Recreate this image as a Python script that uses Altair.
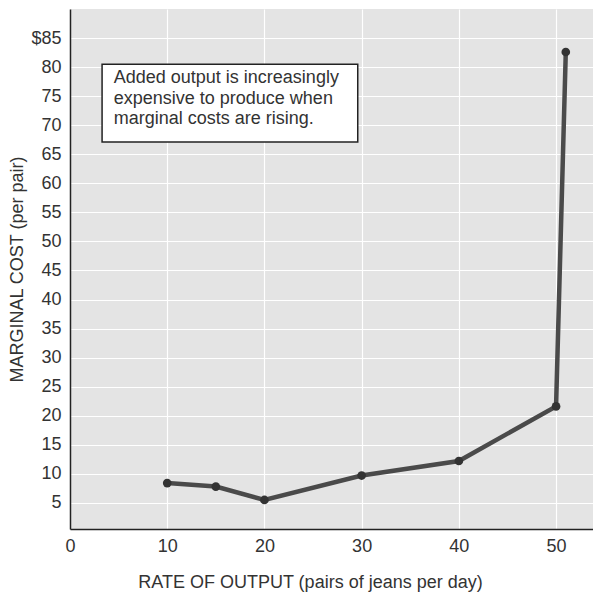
import altair as alt
import pandas as pd

# Marginal cost data
output_rate = [10, 15, 20, 30, 40, 50, 51]
marginal_cost = [8.4, 7.8, 5.5, 9.7, 12.2, 21.6, 82.6]

x_ticks = [0, 10, 20, 30, 40, 50]
y_ticks = [5, 10, 15, 20, 25, 30, 35, 40, 45, 50, 55, 60, 65, 70, 75, 80, 85]

note_lines = ["Added output is increasingly", "expensive to produce when", "marginal costs are rising."]
# annotation box anchored in data units
box_x = [3.3, 29.6]
box_y = [67.1, 80.5]
note_x = [4.5]
note_y = [79.6]

FONT = "Liberation Sans"
TXT = "#333333"

df = pd.DataFrame({"rate": output_rate, "cost": marginal_cost})

xs = alt.Scale(domain=[0, 53.8], nice=False, zero=False)
ys = alt.Scale(domain=[0.5, 90], nice=False, zero=False)

x_axis = alt.Axis(
    values=x_ticks, title="RATE OF OUTPUT (pairs of jeans per day)",
    grid=True, gridColor="white", gridWidth=1.2,
    ticks=False, labelPadding=8, labelFontSize=18, labelFont=FONT, labelColor=TXT,
    domainColor="#222222", domainWidth=1.5,
    titleFont=FONT, titleFontSize=18, titleFontWeight="normal", titleColor=TXT,
    titleX=240, titleY=53, titleBaseline="middle", titleAlign="center", titleAnchor="start",
    labelOverlap=False, labelBound=False, labelFlush=False,
)
y_axis = alt.Axis(
    values=y_ticks, title="MARGINAL COST (per pair)",
    labelExpr="datum.value == 85 ? '$85' : datum.label",
    grid=True, gridColor="white", gridWidth=1.2,
    ticks=False, labelPadding=9, labelFontSize=18, labelFont=FONT, labelColor=TXT,
    domainColor="#222222", domainWidth=1.5,
    titleFont=FONT, titleFontSize=18, titleFontWeight="normal", titleColor=TXT,
    titleX=-53, titleY=260, titleBaseline="middle", titleAlign="center", titleAnchor="start",
    labelOverlap=False, labelBound=False, labelFlush=False, labelSeparation=0,
)

base = alt.Chart(df)

line = base.mark_line(color="#4a4a4a", strokeWidth=4.5).encode(
    x=alt.X("rate:Q", scale=xs, axis=x_axis),
    y=alt.Y("cost:Q", scale=ys, axis=y_axis),
)
points = base.mark_circle(color="#333333", size=75, opacity=1).encode(
    x=alt.X("rate:Q", scale=xs, axis=x_axis),
    y=alt.Y("cost:Q", scale=ys, axis=y_axis),
)

box = alt.Chart(pd.DataFrame({"x": [box_x[0]], "x2": [box_x[1]], "y": [box_y[0]], "y2": [box_y[1]]})).mark_rect(
    fill="white", stroke="#222222", strokeWidth=1.5
).encode(
    x=alt.X("x:Q", scale=xs, axis=x_axis), x2="x2:Q",
    y=alt.Y("y:Q", scale=ys, axis=y_axis), y2="y2:Q",
)

note = alt.Chart(pd.DataFrame({"x": note_x, "y": note_y, "t": ["\n".join(note_lines)]})).mark_text(
    align="left", baseline="top", font=FONT, fontSize=18, color=TXT, lineBreak="\n", lineHeight=20.5
).encode(
    x=alt.X("x:Q", scale=xs, axis=x_axis),
    y=alt.Y("y:Q", scale=ys, axis=y_axis),
    text="t:N",
)

chart = alt.layer(line, points, box, note).properties(
    width=523, height=520,
    autosize=alt.AutoSizeParams(type="none"),
    padding={"left": 62, "top": 1, "right": 0, "bottom": 69},
).configure(
    background="white"
).configure_axis(
    labelOverlap=False
).configure_axisY(
    labelOverlap=False
).configure_view(
    fill="#e4e4e4", stroke=None
)

chart.save("out.html", embed_options={"renderer": "svg", "actions": False})
